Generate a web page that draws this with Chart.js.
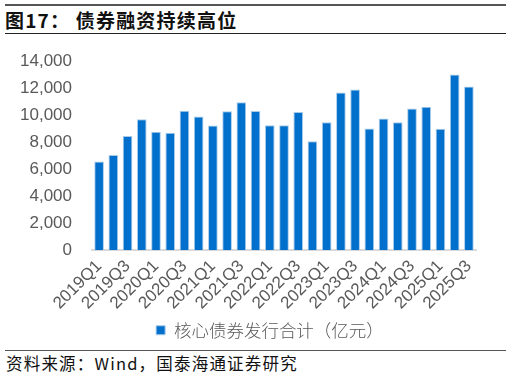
<!DOCTYPE html>
<html><head><meta charset="utf-8">
<script src="https://cdn.jsdelivr.net/npm/chart.js@4"></script>
<style>
html,body{margin:0;padding:0;background:#fff;width:512px;height:377px;overflow:hidden;position:relative;font-family:"Noto Sans CJK SC",sans-serif}
#topline{position:absolute;left:5px;top:4px;width:501px;height:2px;background:#555}
#title{position:absolute;left:5px;top:8px;font-size:19px;font-weight:bold;color:#111;line-height:24px;letter-spacing:1.2px}
#subline{position:absolute;left:5px;top:33px;width:501px;height:1px;background:#222}
#footline{position:absolute;left:5px;top:350px;width:501px;height:1px;background:#555}
#foot{position:absolute;left:6px;top:352px;font-size:16.5px;color:#111;line-height:22px;letter-spacing:1.2px}
#wrap{position:absolute;left:0;top:31px;width:512px;height:318px}
</style></head><body>
<div id="topline"></div>
<div id="title">图17：&nbsp;债券融资持续高位</div>
<div id="subline"></div>
<div id="wrap"><canvas id="c"></canvas></div>
<div id="footline"></div>
<div id="foot">资料来源：Wind，国泰海通证券研究</div>
<script>
const categories = ["2019Q1","2019Q2","2019Q3","2019Q4","2020Q1","2020Q2","2020Q3","2020Q4","2021Q1","2021Q2","2021Q3","2021Q4","2022Q1","2022Q2","2022Q3","2022Q4","2023Q1","2023Q2","2023Q3","2023Q4","2024Q1","2024Q2","2024Q3","2024Q4","2025Q1","2025Q2","2025Q3"];
const issuance = [6580,7050,8470,9700,8770,8700,10340,9900,9240,10300,10960,10320,9260,9260,10240,8080,9480,11690,11910,9010,9750,9480,10490,10630,8990,13020,12130];
const seriesName = "核心债券发行合计（亿元）";
const yTicks = [0,2000,4000,6000,8000,10000,12000,14000];

const shiftLegend = {
  id: 'shiftLegend',
  afterLayout(chart){
    const lg = chart.legend;
    if (lg) { lg.left += 32; lg.right += 32; }
  }
};

new Chart(document.getElementById('c'), {
  type: 'bar',
  data: {
    labels: categories,
    datasets: [{
      label: seriesName,
      data: issuance,
      backgroundColor: '#0070CC',
      borderColor: '#A9CBEA',
      borderWidth: 1,
      categoryPercentage: 1,
      barPercentage: 0.68
    }]
  },
  plugins: [shiftLegend],
  options: {
    responsive: true,
    maintainAspectRatio: false,
    animation: false,
    layout: {padding: {left: 0, right: 36, top: 4, bottom: 0}},
    plugins: {
      legend: {
        position: 'bottom',
        labels: {boxWidth: 9, boxHeight: 9, color: '#595959', font: {size: 17.5, family: '"Noto Sans CJK SC"', weight: '300'}, padding: 2}
      },
      tooltip: {enabled: false}
    },
    scales: {
      x: {
        grid: {display: false, drawTicks: false},
        border: {color: '#D9D9D9', width: 2},
        ticks: {
          autoSkip: false, maxRotation: 45, minRotation: 45,
          color: '#595959', font: {size: 17, family: '"Liberation Sans", Arial'},
          padding: 6,
          callback: function(v, i){ return i % 2 === 0 ? categories[i] : ''; }
        }
      },
      y: {
        min: 0, max: 14000,
        grid: {display: false, drawTicks: false},
        border: {display: false},
        afterBuildTicks: function(axis){ axis.ticks = yTicks.map(v => ({value: v})); },
        ticks: {
          color: '#595959', font: {size: 17, family: '"Liberation Sans", Arial'},
          padding: 20,
          callback: function(v){ return v.toLocaleString('en-US'); }
        }
      }
    }
  }
});
</script>
</body></html>
